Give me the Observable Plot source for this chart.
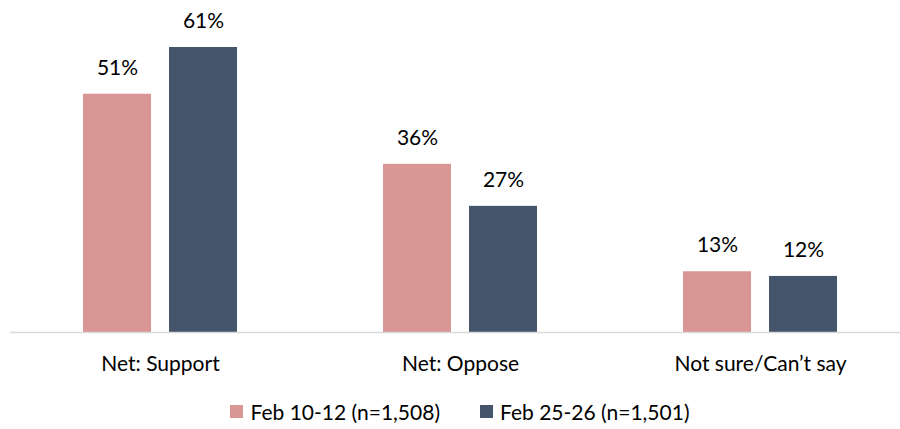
<!DOCTYPE html>
<html>
<head>
<meta charset="utf-8">
<script src="https://cdn.jsdelivr.net/npm/d3@7"></script>
<script src="https://cdn.jsdelivr.net/npm/@observablehq/plot@0.6"></script>
<style>
  html, body { margin: 0; padding: 0; background: #fff; overflow: hidden; }
  body { width: 900px; height: 429px; font-family: Lato, "Noto Sans", sans-serif; }
  #legend { display: flex; justify-content: center; gap: 40px; font-size: 21px; color: #000; margin-top: 14px; margin-left: 20px; line-height: 1.2; }
  .item { display: flex; align-items: center; gap: 7px; }
  .sw { width: 13px; height: 13px; display: inline-block; }
</style>
</head>
<body>
<div id="chart"></div>
<div id="legend"></div>
<script>
const categories = ["Net: Support", "Net: Oppose", "Not sure/Can\u2019t say"];
const seriesNames = ["Feb 10-12 (n=1,508)", "Feb 25-26 (n=1,501)"];
const feb10_12 = [51, 36, 13];
const feb25_26 = [61, 27, 12];
const colors = ["#D99694", "#44546A"];

const data = [];
categories.forEach((c, i) => {
  data.push({category: c, series: seriesNames[0], value: feb10_12[i]});
  data.push({category: c, series: seriesNames[1], value: feb25_26[i]});
});

const chart = Plot.plot({
  width: 900,
  height: 385,
  marginLeft: 10,
  marginRight: -10,
  marginTop: 0,
  marginBottom: 53,
  style: {fontFamily: "Lato, 'Noto Sans', sans-serif", fontSize: "21px", color: "#000", background: "#fff"},
  fx: {domain: categories, padding: 0, label: null, axis: "bottom", tickSize: 0, tickPadding: 24},
  x: {domain: seriesNames, paddingInner: 0.215, paddingOuter: 0.84, axis: null},
  y: {domain: [0, 71.06], axis: null},
  color: {domain: seriesNames, range: colors},
  marks: [
    Plot.barY(data, {fx: "category", x: "series", y: "value", fill: "series"}),
    Plot.text(data, {fx: "category", x: "series", y: "value", text: d => d.value + "%", dy: -26, fontSize: 21, fill: "#000"}),
    Plot.ruleY([0], {stroke: "#D9D9D9", strokeWidth: 1.5})
  ]
});
document.getElementById("chart").appendChild(chart);

const legend = document.getElementById("legend");
seriesNames.forEach((s, i) => {
  const item = document.createElement("div");
  item.className = "item";
  const sw = document.createElement("span");
  sw.className = "sw";
  sw.style.background = colors[i];
  const t = document.createElement("span");
  t.textContent = s;
  item.appendChild(sw);
  item.appendChild(t);
  legend.appendChild(item);
});
</script>
</body>
</html>
